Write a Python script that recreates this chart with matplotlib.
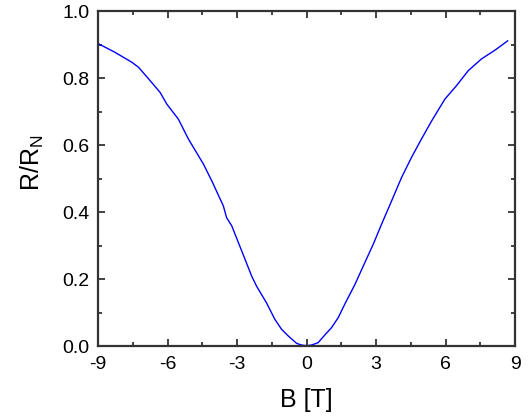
import numpy as np
import matplotlib
matplotlib.use("Agg")
import matplotlib.pyplot as plt
from matplotlib.ticker import MultipleLocator

# magnetic field sweep
field_T = [-9.0, -8.25, -7.54, -7.25, -6.75, -6.32, -6.03, -5.53, -5.1, -4.45,
           -4.09, -3.59, -3.45, -3.23, -2.8, -2.37, -2.16, -1.73, -1.37, -1.08,
           -0.79, -0.43, -0.22, 0.0, 0.22, 0.5, 0.79, 1.08, 1.37, 1.65,
           2.09, 2.45, 2.88, 3.24, 3.67, 4.1, 4.53, 4.96, 5.4, 5.97,
           6.47, 6.98, 7.55, 8.13, 8.68]
r_norm = [0.903, 0.876, 0.847, 0.832, 0.792, 0.757, 0.722, 0.677, 0.618, 0.543,
          0.493, 0.418, 0.383, 0.359, 0.284, 0.209, 0.179, 0.129, 0.080, 0.050,
          0.030, 0.008, 0.003, 0.001, 0.003, 0.010, 0.033, 0.055, 0.085, 0.125,
          0.184, 0.239, 0.304, 0.364, 0.433, 0.503, 0.563, 0.618, 0.672, 0.737,
          0.777, 0.822, 0.857, 0.883, 0.911]

x_ticks = [-9, -6, -3, 0, 3, 6, 9]
y_ticks = [0.0, 0.2, 0.4, 0.6, 0.8, 1.0]

plt.rcParams['font.family'] = ['Liberation Sans', 'DejaVu Sans']

fig = plt.figure(figsize=(5.31, 4.19), dpi=100)
ax = fig.add_axes([0.1846, 0.1742, 0.7854, 0.7995])

ax.plot(field_T, r_norm, color='#0000ff', lw=1.0)

ax.set_xlim(-9, 9)
ax.set_ylim(0, 1.0)
ax.set_xticks(x_ticks)
ax.set_xticklabels([str(t) for t in x_ticks])
ax.set_yticks(y_ticks)
ax.set_yticklabels(['%.1f' % t for t in y_ticks])
ax.xaxis.set_minor_locator(MultipleLocator(1.5))
ax.yaxis.set_minor_locator(MultipleLocator(0.1))

ax.tick_params(which='both', direction='in', top=True, right=True,
               colors='#222222', labelcolor='black', labelsize=14, width=1.2)
ax.tick_params(which='major', length=5)
ax.tick_params(which='minor', length=3)
ax.tick_params(axis='y', which='major', pad=6)
ax.tick_params(axis='x', which='major', pad=7)
for s in ax.spines.values():
    s.set_linewidth(1.6)
    s.set_color('#333333')

ax.set_xlabel('B [T]', fontsize=18, labelpad=11)
ax.set_ylabel(r'R/R$_\mathregular{N}$', fontsize=18)
ax.yaxis.set_label_coords(-0.125, 0.546)

fig.savefig('out.png', dpi=100)
